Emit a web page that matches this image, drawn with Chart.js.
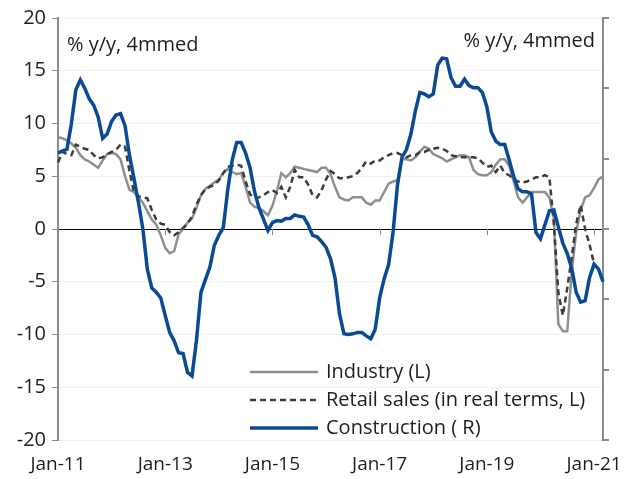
<!DOCTYPE html>
<html>
<head>
<meta charset="utf-8">
<script src="https://cdn.jsdelivr.net/npm/chart.js@4.4.1/dist/chart.umd.min.js"></script>
<style>
  html, body { margin: 0; padding: 0; background: #fff; overflow: hidden; }
  #wrap { position: relative; width: 663px; height: 479px; }
</style>
</head>
<body>
<div id="wrap"><canvas id="grafica"></canvas></div>
<script>
// Meses de Jan-11 a Mar-21
const years = [11, 12, 13, 14, 15, 16, 17, 18, 19, 20, 21];
const monthNames = ['Jan', 'Feb', 'Mar', 'Apr', 'May', 'Jun', 'Jul', 'Aug', 'Sep', 'Oct', 'Nov', 'Dec'];
const labels = [];
years.forEach(y => monthNames.forEach((m, i) => {
    if (y < 21 || i < 3) labels.push(m + '-' + y);
}));

// Industria (eje izquierdo)
const industry = [
    8.7, 8.6, 8.4, 8.1, 7.7, 7.0, 6.6, 6.4, 6.1, 5.8, 6.5, 7.1,
    7.2, 7.1, 6.6, 5.0, 3.7, 3.5, 3.0, 2.5, 1.7, 0.9, 0.4, -0.6,
    -1.8, -2.3, -2.1, -0.5, 0.0, 0.6, 1.0, 2.0, 3.2, 3.8, 4.1, 4.4,
    4.7, 5.3, 5.7, 5.4, 5.2, 5.3, 4.0, 2.5, 2.1, 2.0, 1.7, 1.3,
    2.2, 3.6, 5.3, 4.9, 5.3, 5.9, 5.8, 5.7, 5.6, 5.5, 5.4, 5.8,
    5.8, 5.2, 4.0, 3.0, 2.8, 2.7, 3.0, 3.0, 3.0, 2.5, 2.3, 2.7,
    2.7, 3.5, 4.3, 4.5, 4.6, 6.6, 6.6, 6.5, 6.8, 7.3, 7.8, 7.6,
    7.1, 6.9, 6.7, 6.4, 6.6, 6.8, 7.0, 7.0, 6.8, 5.6, 5.2, 5.1,
    5.1, 5.4, 6.1, 6.6, 6.6, 6.0, 4.5, 3.0, 2.5, 3.0, 3.5, 3.5,
    3.5, 3.5, 3.0, 1.0, -9.0, -9.7, -9.7, -4.0, -0.3, 1.8, 3.0, 3.2,
    3.9, 4.7, 5.0
];

// Ventas minoristas en términos reales (eje izquierdo)
const retail = [
    6.3, 7.3, 7.1, 7.0, 8.0, 7.8, 7.6, 7.5, 7.0, 6.7, 6.8, 7.1,
    7.3, 7.5, 8.0, 7.8, 5.5, 3.5, 3.1, 3.0, 2.9, 1.8, 0.9, 0.5,
    0.4, -0.3, -0.6, -0.3, 0.1, 0.5, 1.2, 2.3, 3.2, 3.8, 4.0, 4.2,
    4.6, 5.3, 5.9, 6.0, 6.1, 6.0, 4.5, 3.3, 2.9, 3.0, 3.2, 3.5,
    3.7, 3.4, 4.0, 3.0, 4.0, 5.6, 4.9, 4.9, 4.2, 3.2, 3.0, 3.7,
    4.7, 5.5, 5.2, 4.8, 4.8, 4.9, 5.0, 5.3, 5.8, 6.4, 6.2, 6.5,
    6.5, 6.8, 7.0, 7.2, 7.2, 7.0, 6.8, 7.0, 7.0, 7.3, 7.3, 7.5,
    7.6, 7.7, 7.6, 7.4, 7.0, 6.9, 6.8, 6.8, 6.8, 6.8, 6.7, 6.3,
    5.9, 6.0, 5.4, 6.0, 5.3, 5.1, 4.7, 4.5, 4.4, 4.5, 4.7, 4.9,
    4.9, 5.1, 4.9, 0.5, -6.0, -8.2, -5.6, -2.7, 0.5, 2.3, 0.0, -1.5,
    -3.3, null, null
];

// Construcción (eje derecho)
const construction = [
    10.8, 11.1, 11.3, 15.0, 19.8, 21.2, 20.0, 18.5, 17.6, 15.9, 12.9, 13.5,
    15.3, 16.2, 16.4, 14.7, 10.5, 7.2, 3.8, 0.0, -5.7, -8.4, -9.0, -9.8,
    -12.3, -14.7, -15.9, -17.6, -17.7, -20.4, -20.9, -15.8, -9.0, -7.2, -5.4, -2.3,
    -0.9, 0.2, 5.6, 9.8, 12.3, 12.3, 10.8, 8.7, 5.3, 3.0, 1.4, -0.2,
    0.9, 1.2, 1.1, 1.5, 1.5, 2.0, 1.8, 1.7, 0.6, -0.9, -1.1, -1.8,
    -2.6, -4.2, -6.9, -12.0, -14.9, -15.0, -14.9, -14.7, -14.7, -15.2, -15.6, -14.3,
    -9.8, -7.1, -5.1, -0.5, 6.3, 10.2, 11.3, 13.5, 16.8, 19.4, 19.2, 18.8,
    19.2, 23.3, 24.3, 24.2, 21.5, 20.3, 20.3, 21.3, 20.4, 20.1, 20.1, 19.4,
    17.4, 13.8, 12.5, 12.0, 12.0, 9.8, 7.5, 5.7, 5.3, 5.3, 5.0, -0.5,
    -1.4, 0.6, 2.6, 2.7, 0.3, -2.0, -3.5, -5.6, -9.0, -10.4, -10.2, -6.9,
    -5.0, -5.7, -7.5
];

const FONT = "'Open Sans', 'DejaVu Sans', sans-serif";
const TEXT = '#1e1e1e';
const AXIS = '#8c8c8c';

// Textos de unidades dentro del área
const unitsPlugin = {
    id: 'unidades',
    afterDraw(chart) {
        const c = chart.ctx;
        c.save();
        c.fillStyle = TEXT;
        c.font = '20px ' + FONT;
        c.textBaseline = 'middle';
        c.textAlign = 'left';
        c.fillText('% y/y, 4mmed', 67, 45);
        c.textAlign = 'right';
        c.fillText('% y/y, 4mmed', 595, 41);
        c.restore();
    }
};

// Marcas del eje X sobre la línea cero y marcas cortas del eje derecho
const ticksPlugin = {
    id: 'marcas',
    afterDatasetsDraw(chart) {
        const c = chart.ctx;
        const x = chart.scales.x;
        const yR = chart.scales.y1;
        const y0 = chart.scales.y.getPixelForValue(0);
        c.save();
        c.strokeStyle = AXIS;
        c.lineWidth = 1;
        labels.forEach((l, i) => {
            if (i > 0 && i % 24 === 0) {
                const px = Math.round(x.getPixelForValue(i)) + 0.5;
                c.beginPath();
                c.moveTo(px, y0);
                c.lineTo(px, y0 + 6);
                c.stroke();
            }
        });
        c.lineWidth = 2;
        yR.ticks.forEach(t => {
            const py = Math.round(yR.getPixelForValue(t.value));
            c.beginPath();
            c.moveTo(yR.left, py);
            c.lineTo(yR.left + 6, py);
            c.stroke();
        });
        c.restore();
    }
};

// Leyenda dibujada dentro del gráfico
const legendPlugin = {
    id: 'leyenda',
    afterDraw(chart) {
        const c = chart.ctx;
        const rows = [372, 400, 428];
        c.save();
        c.font = '20px ' + FONT;
        c.textBaseline = 'middle';
        c.textAlign = 'left';
        chart.data.datasets.forEach((ds, i) => {
            const y = rows[i];
            c.strokeStyle = ds.borderColor;
            c.lineWidth = ds.borderWidth;
            c.setLineDash(ds.borderDash || []);
            c.beginPath();
            c.moveTo(250, y);
            c.lineTo(318, y);
            c.stroke();
            c.setLineDash([]);
            c.fillStyle = TEXT;
            c.fillText(ds.label, 326, y);
        });
        c.restore();
    }
};

const ctx = document.getElementById('grafica').getContext('2d');
new Chart(ctx, {
    type: 'line',
    data: {
        labels: labels,
        datasets: [
            {
                label: 'Industry (L)',
                data: industry,
                yAxisID: 'y',
                borderColor: '#8f8f8f',
                borderWidth: 2.5,
                pointRadius: 0,
                order: 2
            },
            {
                label: 'Retail sales (in real terms, L)',
                data: retail,
                yAxisID: 'y',
                borderColor: '#3c3c3c',
                borderWidth: 2.5,
                borderDash: [6, 4],
                pointRadius: 0,
                order: 1
            },
            {
                label: 'Construction ( R)',
                data: construction,
                yAxisID: 'y1',
                borderColor: '#0a4a94',
                borderWidth: 3.5,
                pointRadius: 0,
                order: 0
            }
        ]
    },
    options: {
        responsive: true,
        maintainAspectRatio: false,
        animation: false,
        layout: { padding: { top: 0, left: 0, right: 0, bottom: 0 } },
        plugins: {
            legend: { display: false },
            tooltip: { enabled: false }
        },
        scales: {
            x: {
                type: 'category',
                grid: { display: false, drawTicks: false },
                border: { display: false },
                afterFit(scale) { scale.height = 39; },
                ticks: {
                    autoSkip: false,
                    maxRotation: 0,
                    padding: 13,
                    color: TEXT,
                    font: { family: FONT, size: 19 },
                    callback: function (val, i) {
                        return i % 24 === 0 ? labels[i] : null;
                    }
                }
            },
            y: {
                position: 'left',
                min: -20,
                max: 20,
                afterFit(scale) { scale.width = 58; },
                ticks: {
                    stepSize: 5,
                    padding: 6,
                    color: TEXT,
                    font: { family: FONT, size: 20 }
                },
                grid: {
                    color: c => c.tick && c.tick.value === 0 ? '#000000' : '#f0f0f0',
                    tickColor: AXIS,
                    tickLength: 6
                },
                border: { color: AXIS, width: 2 }
            },
            y1: {
                position: 'right',
                min: -30,
                max: 30,
                afterFit(scale) { scale.width = 60; },
                ticks: {
                    stepSize: 10,
                    padding: 2,
                    color: TEXT,
                    font: { family: FONT, size: 20 }
                },
                grid: {
                    drawOnChartArea: false,
                    tickColor: 'rgba(0,0,0,0)',
                    tickLength: 19
                },
                border: { color: AXIS, width: 2 }
            }
        }
    },
    plugins: [unitsPlugin, ticksPlugin, legendPlugin]
});
</script>
</body>
</html>
